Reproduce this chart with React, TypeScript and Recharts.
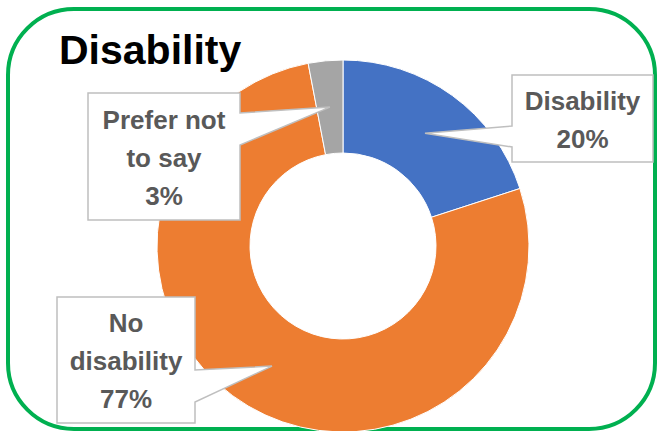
import { Cell, Pie, PieChart } from "recharts";

const categories = ["Disability", "No disability", "Prefer not to say"];
const shares = [20, 77, 3];
const sliceColors = ["#4472C4", "#ED7D31", "#A5A5A5"];

// callout boxes, placed by hand like in the original workbook
const callouts = [
  { x: 512, y: 75, w: 141, h: 87, side: "left", wedge: [51, 72], lines: ["Disability"] },
  { x: 57, y: 297, w: 138, h: 126, side: "right", wedge: [73, 105], lines: ["No", "disability"] },
  { x: 88, y: 93, w: 152, h: 127, side: "right", wedge: [20, 52], lines: ["Prefer not", "to say"] },
];

const data = categories.map((name, i) => ({ name, value: shares[i] }));

const RADIAN = Math.PI / 180;
const FONT = '"Liberation Sans", Arial, sans-serif';

function calloutPath(
  box: (typeof callouts)[number],
  tipX: number,
  tipY: number,
): string {
  const { x, y, w, h, side, wedge } = box;
  if (side === "left") {
    return `M${x},${y} H${x + w} V${y + h} H${x} V${y + wedge[1]} L${tipX},${tipY} L${x},${y + wedge[0]} Z`;
  }
  return `M${x},${y} H${x + w} V${y + wedge[0]} L${tipX},${tipY} L${x + w},${y + wedge[1]} V${y + h} H${x} Z`;
}

function renderCallout(props: any) {
  const { cx, cy, midAngle, innerRadius, outerRadius, index, percent } = props;
  const box = callouts[index];
  const r = (innerRadius + outerRadius) / 2;
  const tipX = cx + r * Math.cos(-midAngle * RADIAN);
  const tipY = cy + r * Math.sin(-midAngle * RADIAN);
  const lines = [...box.lines, `${Math.round(percent * 100)}%`];
  const centerX = box.x + box.w / 2;
  const centerY = box.y + box.h / 2;
  const step = 38;

  return (
    <g key={`callout-${index}`}>
      <path
        d={calloutPath(box, tipX, tipY)}
        fill="#ffffff"
        stroke="#BFBFBF"
        strokeWidth={1.5}
      />
      {lines.map((line, i) => (
        <text
          key={line}
          x={centerX}
          y={centerY + 10 + (i - (lines.length - 1) / 2) * step}
          textAnchor="middle"
          fill="#595959"
          fontFamily={FONT}
          fontWeight={700}
          fontSize={26}
        >
          {line}
        </text>
      ))}
    </g>
  );
}

export default function App() {
  return (
    <div
      style={{
        position: "absolute",
        left: 0,
        top: 0,
        width: 657,
        height: 431,
        background: "#ffffff",
        overflow: "hidden",
      }}
    >
      <div
        style={{
          position: "absolute",
          left: 6,
          top: 7,
          width: 651,
          height: 424,
          boxSizing: "border-box",
          border: "4px solid #00B050",
          borderRadius: 68,
        }}
      />
      <div
        style={{
          position: "absolute",
          left: 59,
          top: 26,
          fontFamily: FONT,
          fontWeight: 700,
          fontSize: 41,
          lineHeight: "48px",
          color: "#000000",
        }}
      >
        Disability
      </div>
      <div style={{ position: "absolute", left: 0, top: 0 }}>
        <PieChart
          width={657}
          height={431}
          margin={{ top: 0, right: 0, bottom: 0, left: 0 }}
        >
          <Pie
            data={data}
            dataKey="value"
            nameKey="name"
            cx={343}
            cy={246}
            innerRadius={93}
            outerRadius={186}
            startAngle={90}
            endAngle={-270}
            stroke="#ffffff"
            strokeWidth={1}
            label={renderCallout}
            labelLine={false}
            isAnimationActive={false}
          >
            {data.map((d, i) => (
              <Cell key={d.name} fill={sliceColors[i]} />
            ))}
          </Pie>
        </PieChart>
      </div>
    </div>
  );
}
